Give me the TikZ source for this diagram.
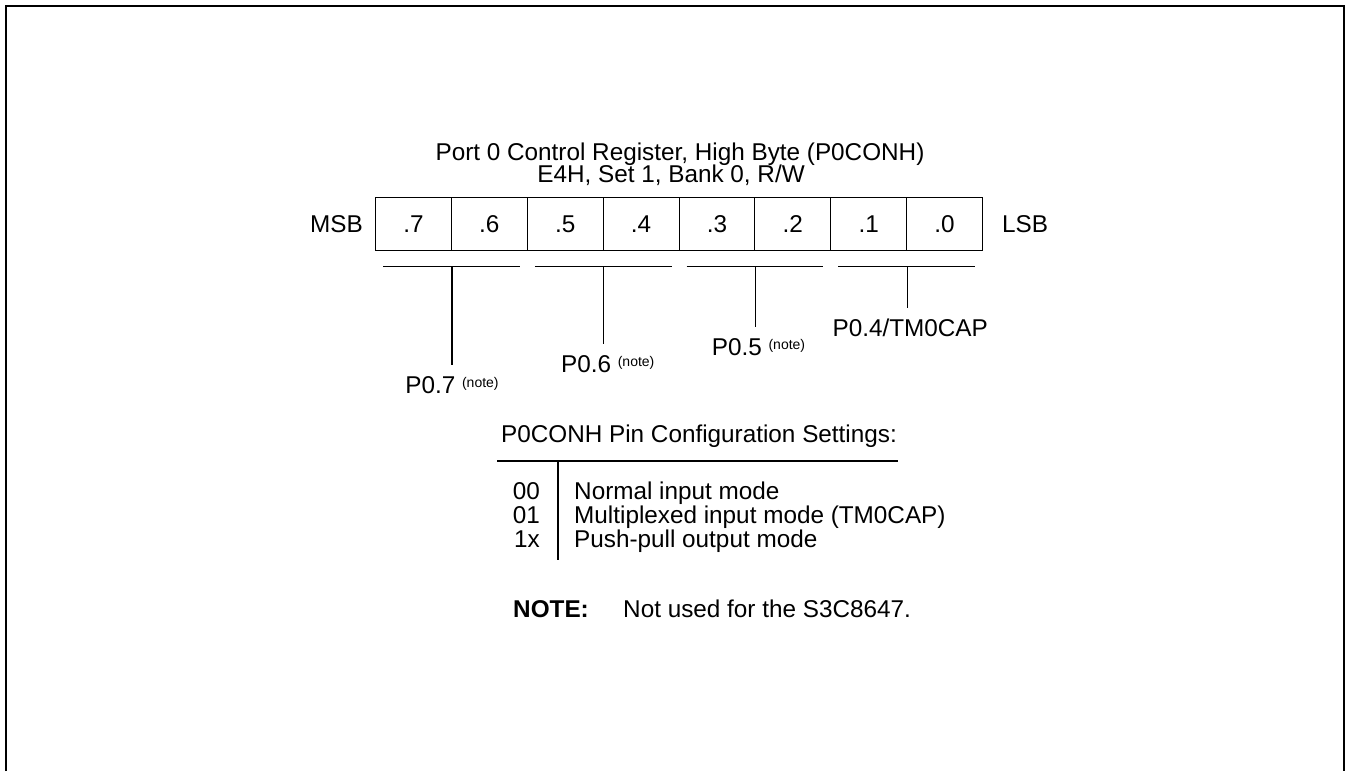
\documentclass[tikz,border=0pt]{standalone}
\usepackage{fontspec}
\setmainfont{Liberation Sans}
\usetikzlibrary{positioning,calc}

\newcommand{\notemark}{\raisebox{6pt}{\fontsize{14}{16}\selectfont(note)}}

\begin{document}
\begin{tikzpicture}[
        x=1pt, y=-1pt,
        font=\fontsize{24.3}{27}\selectfont,
        every node/.style={inner sep=0pt},
        bit cell/.style={draw, line width=1.1pt, anchor=north west, minimum width=75.875pt, minimum height=53pt},
        group line/.style={line width=1.2pt},
        pin label/.style={anchor=base, text height=17pt, inner ysep=11pt},
    ]
    \useasboundingbox (0,0) rectangle (1351,771);

    % Outer frame (open at the bottom)
    \draw[line width=2pt] (6,771) -- (6,6) -- (1344,6) -- (1344,771);

    % Register title
    \node[anchor=base] (title) at (680,160) {Port 0 Control Register, High Byte (P0CONH)};
    \node[anchor=base] (addr) at (671,182) {E4H, Set 1, Bank 0, R/W};

    % Bit cells .7 ... .0
    \foreach \b [count=\i from 0] in {7,6,...,0} {
        \node[bit cell] (b\b) at (375+\i*75.875, 197) {.\b};
    }
    \node[anchor=base east] (msb) at (363,232) {MSB};
    \node[anchor=base west] (lsb) at (1002,232) {LSB};

    % Bit pairs: bracket under each pair, stem from its middle
    \foreach \hi/\lo in {7/6,5/4,3/2,1/0} {
        \coordinate (m\hi) at ($(b\hi.south east)+(0,15)$);
        \draw[group line] ($(b\hi.south west)+(8,15)$) -- ($(b\lo.south east)+(-8,15)$);
    }

    % Pin names
    \node[pin label] (p7) at ($(m7)+(0,127)$) {P0.7 \notemark};
    \node[pin label] (p5) at ($(m5)+(4,106)$) {P0.6 \notemark};
    \node[pin label] (p3) at ($(m3)+(3,89)$) {P0.5 \notemark};
    \node[pin label] (p1) at ($(m1)+(3,70)$) {P0.4/TM0CAP};
    \foreach \n in {7,5,3,1} {
        \draw[group line] (m\n) -- (m\n |- p\n.north);
    }

    % Pin configuration table
    \node[anchor=base] (cfg) at (699,442) {P0CONH Pin Configuration Settings:};
    \coordinate (rule l) at (497,461);
    \coordinate (rule r) at (898,461);
    \coordinate (sep top) at (558,461);
    \coordinate (sep bot) at (558,560);
    \draw[group line] (rule l) -- (rule r);
    \draw[group line] (sep top) -- (sep bot);
    \foreach \code/\desc [count=\r from 0] in {00/Normal input mode,01/Multiplexed input mode (TM0CAP),1x/Push-pull output mode} {
        \node[anchor=base east] (code\r) at (540, 499.5+24*\r) {\code};
        \node[anchor=base west] (desc\r) at (574, 499.5+24*\r) {\desc};
    }

    % Note
    \node[anchor=base west] (notehead) at (513,617) {\textbf{NOTE:}};
    \node[anchor=base west] (notetext) at (623,617) {Not used for the S3C8647.};

\end{tikzpicture}
\end{document}
